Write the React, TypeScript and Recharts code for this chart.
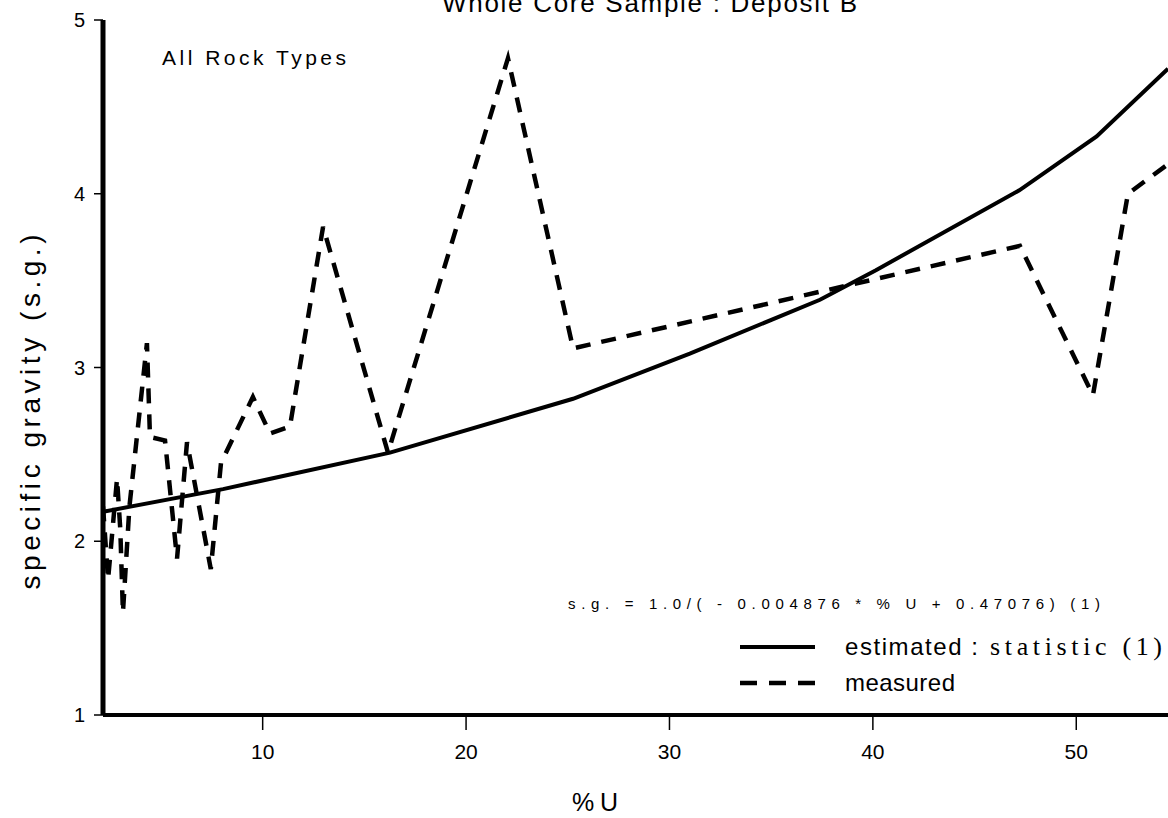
import React from 'react';
import { LineChart, Line, XAxis, YAxis, Legend, Label } from 'recharts';

// measured specific gravity vs % U
const measuredU = [
  2.15, 2.4, 2.84, 3.0, 3.13, 3.45, 4.31, 4.46, 5.2, 5.79, 6.28, 7.45, 7.95,
  9.52, 10.36, 11.34, 12.97, 16.16, 22.06, 25.26, 47.23, 50.82, 52.54, 54.51,
];
const measuredSg = [
  2.2, 1.78, 2.36, 2.07, 1.59, 2.2, 3.14, 2.6, 2.58, 1.9, 2.57, 1.84, 2.45,
  2.83, 2.62, 2.66, 3.81, 2.51, 4.78, 3.11, 3.7, 2.84, 4.0, 4.17,
];

// estimated curve (statistic 1)
const estimatedU = [2.15, 8.05, 16.26, 25.26, 31.0, 37.4, 40.15, 47.2, 51.0, 54.51];
const estimatedSg = [2.17, 2.3, 2.51, 2.82, 3.08, 3.39, 3.56, 4.02, 4.33, 4.72];

const xTicks = [10, 20, 30, 40, 50];
const yTicks = [1, 2, 3, 4, 5];

const measured = measuredU.map((u, i) => ({ u, sg: measuredSg[i] }));
const estimated = estimatedU.map((u, i) => ({ u, sg: estimatedSg[i] }));

const sans = '"Liberation Sans", Arial, Helvetica, sans-serif';
const serif = '"Liberation Serif", "Times New Roman", serif';

function LegendBox() {
  return (
    <svg width={428} height={80}>
      <line x1={0} y1={22} x2={75} y2={22} stroke="#000" strokeWidth={4} />
      <text x={105} y={30} fontFamily={sans} fontSize={24} textLength={133} lengthAdjust="spacing">
        estimated :
      </text>
      <text x={250} y={30} fontFamily={serif} fontSize={26} textLength={172} lengthAdjust="spacing">
        statistic (1)
      </text>
      <line x1={0} y1={58} x2={75} y2={58} stroke="#000" strokeWidth={4.5} strokeDasharray="17 12" />
      <text x={105} y={66} fontFamily={sans} fontSize={24} textLength={110} lengthAdjust="spacing">
        measured
      </text>
    </svg>
  );
}

export default function App() {
  return (
    <div
      style={{
        position: 'absolute',
        left: 0,
        top: 0,
        width: 1168,
        height: 818,
        overflow: 'hidden',
        background: '#fff',
        fontFamily: sans,
      }}
    >
      <LineChart width={1168} height={818} margin={{ top: 20, right: 0, left: 0, bottom: 0 }}>
        <XAxis
          dataKey="u"
          type="number"
          domain={[2.15, 54.51]}
          allowDataOverflow
          ticks={xTicks}
          height={103}
          tickSize={15}
          tickMargin={14}
          axisLine={{ stroke: '#000', strokeWidth: 4 }}
          tickLine={{ stroke: '#000', strokeWidth: 1.5 }}
          tick={{ fill: '#000', fontSize: 21, fontFamily: sans }}
        >
          <Label
            content={() => (
              <text
                x={595}
                y={811}
                textAnchor="middle"
                fontFamily={sans}
                fontSize={25}
                textLength={46}
                lengthAdjust="spacing"
              >
                % U
              </text>
            )}
          />
        </XAxis>
        <YAxis
          type="number"
          domain={[1, 5]}
          ticks={yTicks}
          width={103}
          tickSize={9}
          tickMargin={9}
          axisLine={{ stroke: '#000', strokeWidth: 5 }}
          tickLine={{ stroke: '#000', strokeWidth: 1.5 }}
          tick={{ fill: '#000', fontSize: 20, fontFamily: sans }}
        >
          <Label
            content={() => (
              <text
                x={40}
                y={412}
                transform="rotate(-90 40 412)"
                textAnchor="middle"
                fontFamily={sans}
                fontSize={28}
                textLength={355}
                lengthAdjust="spacing"
              >
                specific gravity (s.g.)
              </text>
            )}
          />
        </YAxis>
        <Legend
          layout="horizontal"
          verticalAlign="middle"
          align="center"
          wrapperStyle={{ position: 'absolute', left: 740, top: 625, width: 428, height: 80 }}
          content={() => <LegendBox />}
        />
        <Line
          data={estimated}
          dataKey="sg"
          name="estimated : statistic (1)"
          type="linear"
          stroke="#000"
          strokeWidth={4}
          dot={false}
          isAnimationActive={false}
        />
        <Line
          data={measured}
          dataKey="sg"
          name="measured"
          type="linear"
          stroke="#000"
          strokeWidth={4.5}
          strokeDasharray="15 11"
          dot={false}
          isAnimationActive={false}
        />
      </LineChart>

      <svg
        width={1168}
        height={818}
        style={{ position: 'absolute', left: 0, top: 0, pointerEvents: 'none' }}
      >
        <text x={442} y={12} fontFamily={sans} fontSize={26} textLength={415} lengthAdjust="spacing">
          Whole Core Sample : Deposit B
        </text>
        <text x={162} y={65} fontFamily={sans} fontSize={21} textLength={184} lengthAdjust="spacing">
          All Rock Types
        </text>
        <text x={568} y={609} fontFamily={sans} fontSize={15} textLength={532} lengthAdjust="spacing">
          s.g. = 1.0/( - 0.004876 * % U + 0.47076)  (1)
        </text>
      </svg>
    </div>
  );
}
